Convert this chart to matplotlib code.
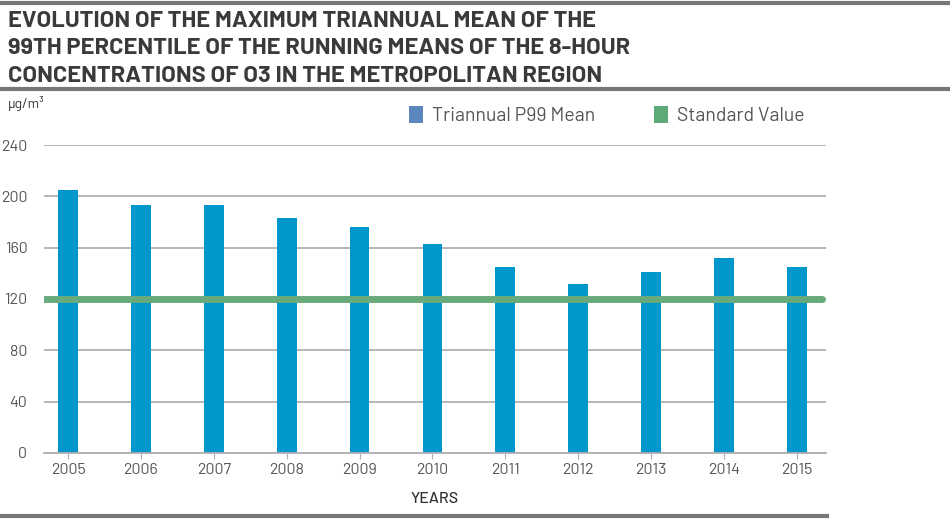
import matplotlib.pyplot as plt
from matplotlib.patches import Patch
from matplotlib.lines import Line2D
import numpy as np

# data
years = ['2005', '2006', '2007', '2008', '2009', '2010', '2011', '2012', '2013', '2014', '2015']
p99_mean = [205, 193, 193, 183, 176, 163, 145, 132, 141, 152, 145]
standard_value = 120

title = ('EVOLUTION OF THE MAXIMUM TRIANNUAL MEAN OF THE\n'
         '99TH PERCENTILE OF THE RUNNING MEANS OF THE 8-HOUR\n'
         'CONCENTRATIONS OF O3 IN THE METROPOLITAN REGION')

plt.rcParams['font.family'] = ['Barlow', 'DejaVu Sans']

BAR_COL = '#0098cc'
LINE_COL = '#69aa7c'
GRID_COL = '#b0b0b0'
TXT_COL = '#555555'

fig = plt.figure(figsize=(9.5, 5.19), dpi=100)
ax = fig.add_axes([0.0463, 0.1272, 0.8232, 0.5934])

x = np.arange(len(years))
ax.bar(x, p99_mean, width=0.27, color=BAR_COL, zorder=2)
ax.axhline(standard_value, xmin=0, xmax=0.995, color=LINE_COL, lw=5, zorder=3,
           solid_capstyle='round')

ax.set_xlim(-0.33, len(years) - 1 + 0.4)
ax.set_ylim(0, 240)
ax.set_yticks(np.arange(0, 241, 40))
ax.grid(axis='y', color=GRID_COL, lw=1.3, zorder=0)
ax.set_xticks(x)
ax.set_xticklabels(years)
for s in ['top', 'right', 'left']:
    ax.spines[s].set_visible(False)
ax.spines['bottom'].set_color(GRID_COL)
ax.spines['bottom'].set_linewidth(1.3)
ax.tick_params(axis='y', length=0, pad=12, labelsize=11.5, labelcolor=TXT_COL)
ax.tick_params(axis='x', length=4, color=GRID_COL, labelsize=11.5, labelcolor=TXT_COL, pad=3)
ax.set_xlabel('YEARS', fontsize=11.5, color='#333333', labelpad=11, fontweight='medium')

# unit label
fig.text(0.0085, 0.787, 'µg/m³', fontsize=10, color='#333333', va='bottom')

# legend
handles = [Patch(facecolor='#5b86bd', label='Triannual P99 Mean'),
           Patch(facecolor='#5fa877', label='Standard Value')]
fig.legend(handles=handles, ncol=2, frameon=False, loc='center left',
           bbox_to_anchor=(0.412, 0.777), handlelength=0.75, handleheight=1.0,
           handletextpad=0.45, columnspacing=3.0, fontsize=14,
           labelcolor='#555555')

# title and rules
fig.text(0.008, 0.835, title, fontsize=17, fontweight='bold', color='#3a3a3a',
         va='bottom', linespacing=1.45)
fig.add_artist(Line2D([0, 1], [0.995, 0.995], color='#777777', lw=3))
fig.add_artist(Line2D([0, 1], [0.828, 0.828], color='#777777', lw=3))
fig.add_artist(Line2D([0, 0.871], [0.006, 0.006], color='#777777', lw=3))

fig.savefig('out.png', dpi=100)
